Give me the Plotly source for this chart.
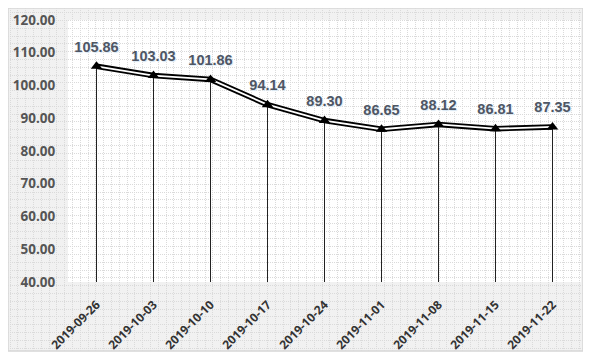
import plotly.graph_objects as go

dates = ["2019-09-26", "2019-10-03", "2019-10-10", "2019-10-17", "2019-10-24",
         "2019-11-01", "2019-11-08", "2019-11-15", "2019-11-22"]
values = [105.86, 103.03, 101.86, 94.14, 89.30, 86.65, 88.12, 86.81, 87.35]
labels = ["105.86", "103.03", "101.86", "94.14", "89.30", "86.65", "88.12", "86.81", "87.35"]
y_ticks = [40, 50, 60, 70, 80, 90, 100, 110, 120]
y_ticktext = ["40.00", "50.00", "60.00", "70.00", "80.00", "90.00", "100.00", "110.00", "120.00"]

# page is rendered with an 8px body offset; design in figure coordinates
OFF = 8
W, H = 575, 346
ML, MR, MT, MB = 0, 0, 0, 3
FW, FH = W - ML - MR, H - MT - MB
PL, PR, PT, PB = 68 - OFF, 581 - OFF, 20 - OFF, 282 - OFF
dx0 = (PL - ML) / FW
dx1 = (PR - ML) / FW
dy1 = (FH - PT) / FH
dy0 = (FH - PB) / FH

y_min = 40
drop = [v - y_min for v in values]

fig = go.Figure()

# invisible trace for background dotted grid axes
fig.add_trace(go.Scatter(x=[None], y=[None], xaxis="x", yaxis="y",
                         showlegend=False, hoverinfo="skip"))

# outer black line
fig.add_trace(go.Scatter(x=dates, y=values, xaxis="x2", yaxis="y2", mode="lines",
                         line=dict(color="#000000", width=5.5),
                         showlegend=False, hoverinfo="skip"))
# inner white line
fig.add_trace(go.Scatter(x=dates, y=values, xaxis="x2", yaxis="y2", mode="lines",
                         line=dict(color="#ffffff", width=1.8),
                         showlegend=False, hoverinfo="skip"))
# markers and drop lines
fig.add_trace(go.Scatter(
    x=dates, y=values, xaxis="x2", yaxis="y2", mode="markers",
    marker=dict(symbol="triangle-up", size=10, color="#000000"),
    error_y=dict(type="data", symmetric=False, array=[0] * len(values),
                 arrayminus=drop, color="#222222", thickness=1, width=0),
    showlegend=False, hoverinfo="skip"))
# value labels
fig.add_trace(go.Scatter(
    x=dates, y=values, xaxis="x2", yaxis="y2", mode="markers+text",
    marker=dict(size=16, color="rgba(0,0,0,0)"),
    text=labels, textposition="top center",
    textfont=dict(family="Liberation Sans, Arial, sans-serif",
                  size=14.5, color="#4f5664", weight="bold",
                  shadow="1px 1px 1px #d8e8f4"),
    showlegend=False, hoverinfo="skip"))

grid_common = dict(showgrid=True, gridcolor="#dadada", gridwidth=1, griddash="1px,1px",
                   showticklabels=False, showline=False, zeroline=False, ticks="",
                   fixedrange=True, automargin=False)

fig.update_layout(
    width=W, height=H,
    margin=dict(l=ML, r=MR, t=MT, b=MB, pad=0, autoexpand=False),
    paper_bgcolor="#ffffff",
    plot_bgcolor="rgba(0,0,0,0)",
    xaxis=dict(domain=[0, 1], range=[0, FW], dtick=7.8, tick0=2, anchor="y", **grid_common),
    yaxis=dict(domain=[0, 1], range=[0, FH], dtick=7.8, tick0=3, anchor="x", **grid_common),
    xaxis2=dict(domain=[dx0, dx1], anchor="y2", type="category",
                range=[-0.5, len(dates) - 0.5], automargin=False,
                showgrid=False, showline=False, zeroline=False,
                ticks="outside", ticklen=10, tickcolor="rgba(0,0,0,0)",
                tickangle=-45,
                tickfont=dict(family="Open Sans, DejaVu Sans, sans-serif", size=12,
                              color="#333333", weight="bold")),
    yaxis2=dict(domain=[dy0, dy1], anchor="x2", range=[40, 120], automargin=False,
                tickvals=y_ticks, ticktext=y_ticktext,
                showgrid=False, showline=False, zeroline=False,
                ticks="outside", ticklen=9, tickcolor="rgba(0,0,0,0)",
                tickfont=dict(family="Open Sans, DejaVu Sans, sans-serif", size=13.5,
                              color="#555555", weight="bold")),
    shapes=[
        dict(type="rect", xref="paper", yref="paper", x0=0, x1=1, y0=0, y1=1,
             fillcolor="#f1f1f1", line=dict(color="#d6d6d6", width=1.5), layer="below"),
        dict(type="rect", xref="paper", yref="paper", x0=dx0, x1=dx1, y0=dy0, y1=dy1,
             fillcolor="#ffffff", line=dict(width=0), layer="below"),
    ],
)

fig.write_html("out.html")
